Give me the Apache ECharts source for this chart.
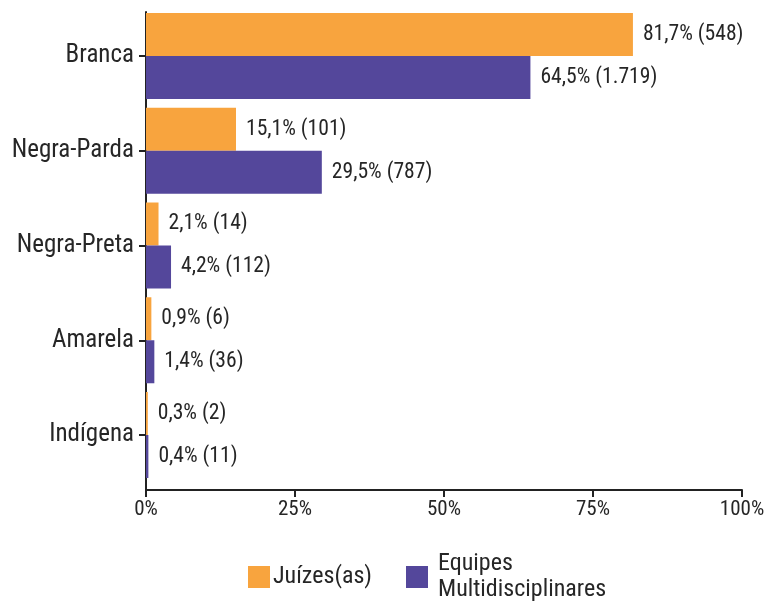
<!DOCTYPE html>
<html>
<head>
<meta charset="utf-8">
<script src="https://cdn.jsdelivr.net/npm/echarts@6/dist/echarts.min.js"></script>
<style>
    html, body { margin: 0; padding: 0; background: #fff; }
    #main { width: 768px; height: 602px; }
</style>
</head>
<body>
<div id="main"></div>
<script type="text/javascript">
    var categorias = ['Branca', 'Negra-Parda', 'Negra-Preta', 'Amarela', 'Indígena'];
    var juizesPct = [81.7, 15.1, 2.1, 0.9, 0.3];
    var juizesQtd = ['548', '101', '14', '6', '2'];
    var equipesPct = [64.5, 29.5, 4.2, 1.4, 0.4];
    var equipesQtd = ['1.719', '787', '112', '36', '11'];
    var ticksX = [0, 25, 50, 75, 100];

    var fonte = '"Roboto Condensed", "Liberation Sans Narrow", Roboto, sans-serif';
    var corTexto = '#262626';

    function rotulo(qtds) {
        return function (p) {
            return String(p.value).replace('.', ',') + '% (' + qtds[p.dataIndex] + ')';
        };
    }

    function serie(nome, dados, qtds, cor) {
        return {
            name: nome,
            type: 'bar',
            xAxisIndex: 0,
            yAxisIndex: 0,
            data: dados,
            barWidth: 43,
            barGap: '0%',
            itemStyle: { color: cor },
            label: {
                show: true,
                position: 'right',
                distance: 10,
                fontSize: 21.6,
                color: corTexto,
                fontFamily: fonte,
                formatter: rotulo(qtds)
            }
        };
    }

    var myChart = echarts.init(document.getElementById('main'));
    var option = {
        animation: false,
        textStyle: { fontFamily: fonte },
        // grid 0: barras e categorias; grid 1: linhas dos eixos (um pouco mais larga)
        grid: [
            { left: 146, right: 26, top: 8.6, bottom: 119.6 },
            { left: 146, right: 26, top: 12, bottom: 112 }
        ],
        legend: {
            left: 243,
            top: 543,
            itemWidth: 22,
            itemHeight: 22,
            itemGap: 34,
            icon: 'rect',
            textStyle: { fontSize: 24, color: corTexto, fontFamily: fonte, lineHeight: 26 },
            data: [
                { name: 'Juízes(as)', textStyle: { padding: [0, 0, 0, -2] } },
                { name: 'Equipes\nMultidisciplinares', textStyle: { padding: [6, 0, 0, 5] } }
            ]
        },
        xAxis: [
            {
                type: 'value',
                gridIndex: 0,
                min: ticksX[0],
                max: ticksX[ticksX.length - 1],
                interval: 25,
                show: false
            },
            {
                type: 'value',
                gridIndex: 1,
                min: ticksX[0],
                max: ticksX[ticksX.length - 1],
                interval: 25,
                axisLine: { show: true, lineStyle: { color: '#222', width: 2 } },
                axisTick: { show: true, length: 7, lineStyle: { color: '#222', width: 2 } },
                splitLine: { show: false },
                axisLabel: {
                    formatter: '{value}%',
                    fontSize: 21,
                    color: corTexto,
                    fontFamily: fonte,
                    margin: 9
                }
            }
        ],
        yAxis: [
            {
                type: 'category',
                gridIndex: 0,
                inverse: true,
                data: categorias,
                axisLine: { show: false },
                axisTick: { show: true, alignWithLabel: true, length: 7, lineStyle: { color: '#222', width: 2 } },
                axisLabel: { fontSize: 25, color: corTexto, fontFamily: fonte, margin: 12 }
            },
            {
                type: 'value',
                gridIndex: 1,
                axisLine: { show: true, lineStyle: { color: '#222', width: 2 } },
                axisTick: { show: false },
                axisLabel: { show: false },
                splitLine: { show: false }
            }
        ],
        series: [
            serie('Juízes(as)', juizesPct, juizesQtd, '#F8A43E'),
            serie('Equipes\nMultidisciplinares', equipesPct, equipesQtd, '#54479B')
        ]
    };
    myChart.setOption(option);
</script>
</body>
</html>
